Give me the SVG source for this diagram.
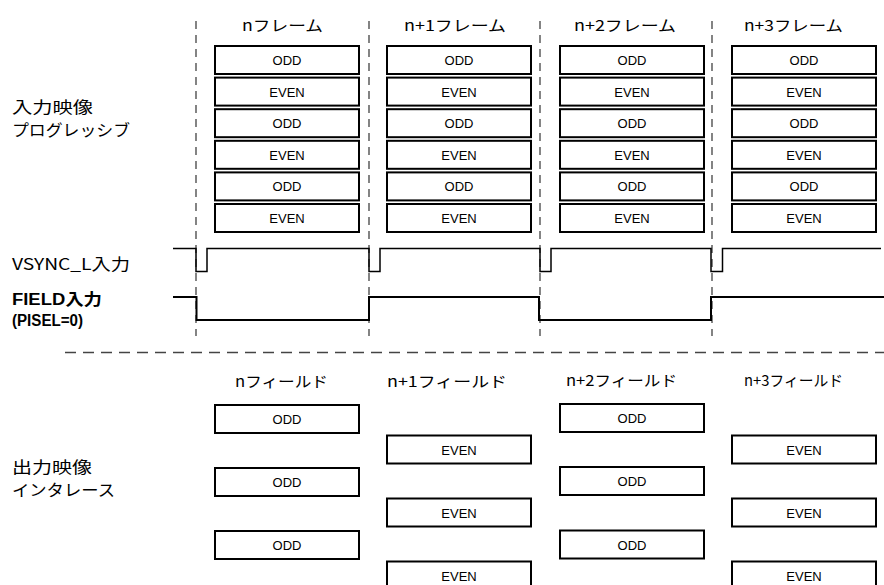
<svg xmlns="http://www.w3.org/2000/svg" width="884" height="585" viewBox="0 0 884 585">
<style>
.box rect{fill:#fff;stroke:#000;stroke-width:2}
.box text{font-family:"Liberation Sans","Noto Sans CJK JP",sans-serif;font-size:13px;text-anchor:middle;fill:#000}
.hd{font-family:"Noto Sans CJK JP","Liberation Sans",sans-serif;font-size:15px;fill:#000}
.lb{font-family:"Noto Sans CJK JP","Liberation Sans",sans-serif;font-size:16px;fill:#000}
.lbb{font-family:"Liberation Sans","Noto Sans CJK JP",sans-serif;font-size:16px;font-weight:bold;fill:#000}
.vd{stroke:#333;stroke-width:1.2;stroke-dasharray:8,6;fill:none}
.hdash{stroke:#444;stroke-width:1.5;stroke-dasharray:11,7;fill:none}
.sig{stroke:#000;fill:none}
</style>
<rect width="884" height="585" fill="#fff"/>
<g id="labels">
<text class="lb" x="12" y="113" textLength="81" lengthAdjust="spacingAndGlyphs">入力映像</text>
<text class="lb" x="12" y="136" textLength="118" lengthAdjust="spacingAndGlyphs">プログレッシブ</text>
<text class="lb" x="12" y="270" textLength="118" lengthAdjust="spacingAndGlyphs">VSYNC_L入力</text>
<text class="lbb" x="12" y="305" textLength="90" lengthAdjust="spacingAndGlyphs">FIELD入力</text>
<text class="lbb" x="12" y="326" textLength="71" lengthAdjust="spacingAndGlyphs">(PISEL=0)</text>
<text class="lb" x="12" y="473" textLength="80" lengthAdjust="spacingAndGlyphs">出力映像</text>
<text class="lb" x="12" y="496" textLength="103" lengthAdjust="spacingAndGlyphs">インタレース</text>
<text class="hd" x="242" y="31" textLength="81" lengthAdjust="spacingAndGlyphs">nフレーム</text>
<text class="hd" x="404" y="31" textLength="102" lengthAdjust="spacingAndGlyphs">n+1フレーム</text>
<text class="hd" x="574" y="31" textLength="102" lengthAdjust="spacingAndGlyphs">n+2フレーム</text>
<text class="hd" x="744" y="31" textLength="99" lengthAdjust="spacingAndGlyphs">n+3フレーム</text>
<text class="hd" x="235" y="387" textLength="93" lengthAdjust="spacingAndGlyphs">nフィールド</text>
<text class="hd" x="387" y="387" textLength="120" lengthAdjust="spacingAndGlyphs">n+1フィールド</text>
<text class="hd" x="566" y="386" textLength="111" lengthAdjust="spacingAndGlyphs">n+2フィールド</text>
<text class="hd" x="744" y="386" textLength="99" lengthAdjust="spacingAndGlyphs">n+3フィールド</text>
</g>
<g id="connectors">
<line class="vd" x1="196" y1="21" x2="196" y2="336"/>
<line class="vd" x1="369" y1="21" x2="369" y2="336"/>
<line class="vd" x1="540" y1="21" x2="540" y2="336"/>
<line class="vd" x1="712" y1="21" x2="712" y2="336"/>
<line class="hdash" x1="65" y1="352.5" x2="884" y2="352.5"/>
<path class="sig" stroke-width="1.5" d="M173,248.5 H196 V271.5 H207 V248.5 H369 V271.5 H380 V248.5 H540 V271.5 H551 V248.5 H711 V271.5 H722.5 V248.5 H881"/>
<path class="sig" stroke-width="2" d="M173,297 H196.5 V320 H369 V297 H539 V320 H711 V297 H884"/>
</g>
<g id="f0-odd1" class="box"><rect x="215" y="46" width="144" height="28"/><text x="287" y="65">ODD</text></g>
<g id="f0-even1" class="box"><rect x="215" y="77.6" width="144" height="28"/><text x="287" y="96.6">EVEN</text></g>
<g id="f0-odd2" class="box"><rect x="215" y="109.2" width="144" height="28"/><text x="287" y="128.2">ODD</text></g>
<g id="f0-even2" class="box"><rect x="215" y="140.8" width="144" height="28"/><text x="287" y="159.8">EVEN</text></g>
<g id="f0-odd3" class="box"><rect x="215" y="172.4" width="144" height="28"/><text x="287" y="191.4">ODD</text></g>
<g id="f0-even3" class="box"><rect x="215" y="204" width="144" height="28"/><text x="287" y="223">EVEN</text></g>
<g id="f1-odd1" class="box"><rect x="387" y="46" width="144" height="28"/><text x="459" y="65">ODD</text></g>
<g id="f1-even1" class="box"><rect x="387" y="77.6" width="144" height="28"/><text x="459" y="96.6">EVEN</text></g>
<g id="f1-odd2" class="box"><rect x="387" y="109.2" width="144" height="28"/><text x="459" y="128.2">ODD</text></g>
<g id="f1-even2" class="box"><rect x="387" y="140.8" width="144" height="28"/><text x="459" y="159.8">EVEN</text></g>
<g id="f1-odd3" class="box"><rect x="387" y="172.4" width="144" height="28"/><text x="459" y="191.4">ODD</text></g>
<g id="f1-even3" class="box"><rect x="387" y="204" width="144" height="28"/><text x="459" y="223">EVEN</text></g>
<g id="f2-odd1" class="box"><rect x="560" y="46" width="144" height="28"/><text x="632" y="65">ODD</text></g>
<g id="f2-even1" class="box"><rect x="560" y="77.6" width="144" height="28"/><text x="632" y="96.6">EVEN</text></g>
<g id="f2-odd2" class="box"><rect x="560" y="109.2" width="144" height="28"/><text x="632" y="128.2">ODD</text></g>
<g id="f2-even2" class="box"><rect x="560" y="140.8" width="144" height="28"/><text x="632" y="159.8">EVEN</text></g>
<g id="f2-odd3" class="box"><rect x="560" y="172.4" width="144" height="28"/><text x="632" y="191.4">ODD</text></g>
<g id="f2-even3" class="box"><rect x="560" y="204" width="144" height="28"/><text x="632" y="223">EVEN</text></g>
<g id="f3-odd1" class="box"><rect x="732" y="46" width="144" height="28"/><text x="804" y="65">ODD</text></g>
<g id="f3-even1" class="box"><rect x="732" y="77.6" width="144" height="28"/><text x="804" y="96.6">EVEN</text></g>
<g id="f3-odd2" class="box"><rect x="732" y="109.2" width="144" height="28"/><text x="804" y="128.2">ODD</text></g>
<g id="f3-even2" class="box"><rect x="732" y="140.8" width="144" height="28"/><text x="804" y="159.8">EVEN</text></g>
<g id="f3-odd3" class="box"><rect x="732" y="172.4" width="144" height="28"/><text x="804" y="191.4">ODD</text></g>
<g id="f3-even3" class="box"><rect x="732" y="204" width="144" height="28"/><text x="804" y="223">EVEN</text></g>
<g id="o0-odd1" class="box"><rect x="215" y="405" width="144" height="28"/><text x="287" y="424">ODD</text></g>
<g id="o0-odd2" class="box"><rect x="215" y="468" width="144" height="28"/><text x="287" y="487">ODD</text></g>
<g id="o0-odd3" class="box"><rect x="215" y="531" width="144" height="28"/><text x="287" y="550">ODD</text></g>
<g id="o1-even1" class="box"><rect x="387" y="435.5" width="144" height="28"/><text x="459" y="454.5">EVEN</text></g>
<g id="o1-even2" class="box"><rect x="387" y="498.5" width="144" height="28"/><text x="459" y="517.5">EVEN</text></g>
<g id="o1-even3" class="box"><rect x="387" y="561.5" width="144" height="28"/><text x="459" y="580.5">EVEN</text></g>
<g id="o2-odd1" class="box"><rect x="560" y="404" width="144" height="28"/><text x="632" y="423">ODD</text></g>
<g id="o2-odd2" class="box"><rect x="560" y="467" width="144" height="28"/><text x="632" y="486">ODD</text></g>
<g id="o2-odd3" class="box"><rect x="560" y="530.5" width="144" height="28"/><text x="632" y="549.5">ODD</text></g>
<g id="o3-even1" class="box"><rect x="732" y="435.5" width="144" height="28"/><text x="804" y="454.5">EVEN</text></g>
<g id="o3-even2" class="box"><rect x="732" y="498.5" width="144" height="28"/><text x="804" y="517.5">EVEN</text></g>
<g id="o3-even3" class="box"><rect x="732" y="561.5" width="144" height="28"/><text x="804" y="580.5">EVEN</text></g>
</svg>
